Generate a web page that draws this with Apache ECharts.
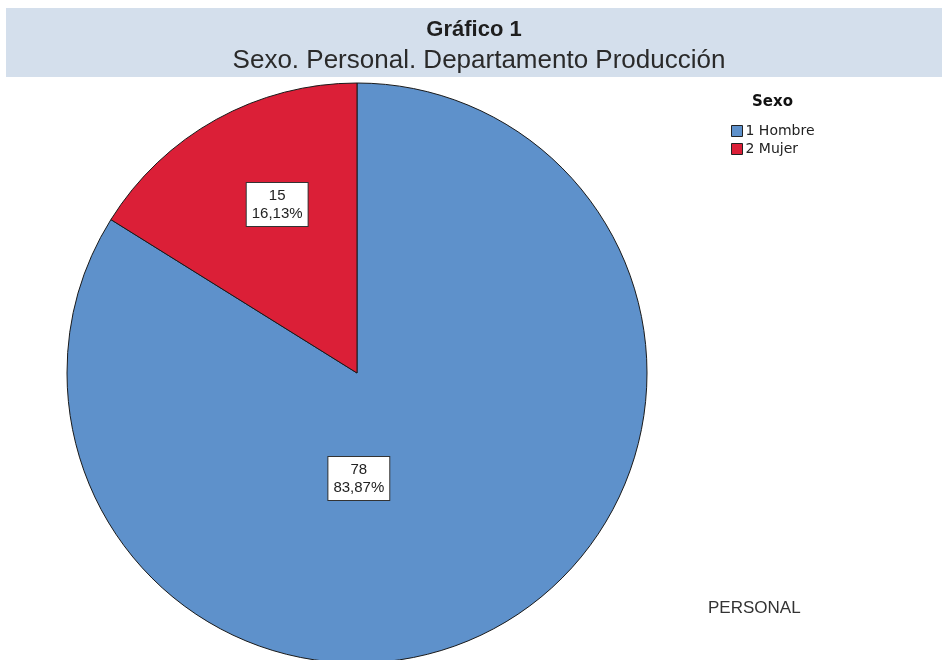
<!DOCTYPE html>
<html>
<head>
<meta charset="utf-8">
<script src="https://cdn.jsdelivr.net/npm/echarts@6/dist/echarts.min.js"></script>
<style>
  html, body { margin: 0; padding: 0; background: #ffffff; }
  #chart { width: 942px; height: 660px; }
</style>
</head>
<body>
<div id="chart"></div>
<script>
// Personal del Departamento Producción por sexo
const categories = ['1 Hombre', '2 Mujer'];
const counts = [78, 15];
const sliceColors = ['#5e91cb', '#db1f37'];

const chartTitle = 'Gráfico 1';
const chartSubtitle = 'Sexo. Personal. Departamento Producción';
const legendTitle = 'Sexo';
const variableName = 'PERSONAL';

const total = counts.reduce((a, b) => a + b, 0);

// Nudges applied to each slice's inside label
const labelShift = [[-70, -24], [-8, -39]];

const chart = echarts.init(document.getElementById('chart'), null, { renderer: 'canvas' });

chart.setOption({
  animation: false,
  backgroundColor: '#ffffff',
  graphic: [
    {
      type: 'rect',
      left: 6, top: 8,
      shape: { width: 936, height: 69 },
      style: { fill: '#d4dfec' },
      z: 0
    },
    {
      type: 'text',
      left: 752, top: 95,
      style: {
        text: legendTitle,
        fontFamily: 'DejaVu Sans, sans-serif',
        fontSize: 15, fontWeight: 'bold', fill: '#111'
      }
    },
    {
      type: 'text',
      left: 708, top: 600,
      style: {
        text: variableName,
        fontFamily: 'Liberation Sans, Arial, sans-serif',
        fontSize: 17, fill: '#333'
      }
    }
  ],
  title: [
    {
      text: chartTitle,
      left: 469, top: 14, textAlign: 'center',
      textStyle: {
        fontFamily: 'Liberation Sans, Arial, sans-serif',
        fontSize: 22, fontWeight: 'bold', color: '#1e1e1e'
      }
    },
    {
      text: chartSubtitle,
      left: 474, top: 43, textAlign: 'center',
      textStyle: {
        fontFamily: 'Liberation Sans, Arial, sans-serif',
        fontSize: 26, fontWeight: 'normal', color: '#2a2a2a'
      }
    }
  ],
  legend: {
    orient: 'vertical',
    left: 731, top: 124,
    padding: 0,
    icon: 'rect',
    itemWidth: 11, itemHeight: 11, itemGap: 4,
    selectedMode: false,
    data: categories,
    itemStyle: { borderColor: '#222', borderWidth: 1 },
    textStyle: {
      fontFamily: 'DejaVu Sans, sans-serif',
      fontSize: 14, lineHeight: 14, color: '#222', padding: [0, 0, 0, -2]
    }
  },
  series: [{
    type: 'pie',
    center: [357, 373],
    radius: 290,
    startAngle: 90,
    clockwise: true,
    silent: true,
    data: categories.map((name, i) => ({
      name: name,
      value: counts[i],
      itemStyle: { color: sliceColors[i] }
    })),
    itemStyle: { borderColor: '#1a1a1a', borderWidth: 1 },
    label: {
      show: true,
      position: 'inside',
      formatter: p => p.value + '\n' + (p.value / total * 100).toFixed(2).replace('.', ',') + '%',
      fontFamily: 'Liberation Sans, Arial, sans-serif',
      fontSize: 15, lineHeight: 18,
      color: '#222',
      backgroundColor: '#ffffff',
      borderColor: '#333', borderWidth: 1,
      padding: [4, 5, 3, 5],
      align: 'center'
    },
    labelLayout: params => ({
      dx: labelShift[params.dataIndex][0],
      dy: labelShift[params.dataIndex][1]
    }),
    labelLine: { show: false },
    emphasis: { disabled: true }
  }]
});
</script>
</body>
</html>
